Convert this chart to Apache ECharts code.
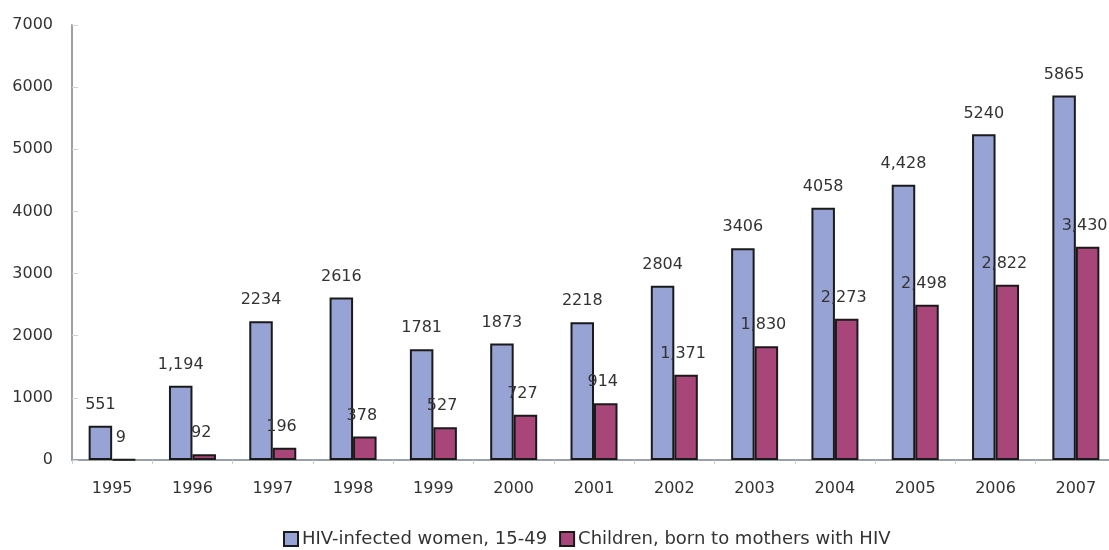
<!DOCTYPE html>
<html>
<head>
<meta charset="utf-8">
<script src="https://cdn.jsdelivr.net/npm/echarts@6/dist/echarts.min.js"></script>
<style>
html,body{margin:0;padding:0;background:#fff;overflow:hidden;}
#chart{width:1116px;height:550px;}
</style>
</head>
<body>
<div id="chart"></div>
<script>
const categories = ['1995','1996','1997','1998','1999','2000','2001','2002','2003','2004','2005','2006','2007'];
const womenValues = [551, 1194, 2234, 2616, 1781, 1873, 2218, 2804, 3406, 4058, 4428, 5240, 5865];
const childrenValues = [9, 92, 196, 378, 527, 727, 914, 1371, 1830, 2273, 2498, 2822, 3430];
const womenLabels = ['551','1,194','2234','2616','1781','1873','2218','2804','3406','4058','4,428','5240','5865'];
const childrenLabels = ['9','92','196','378','527','727','914','1,371','1,830','2,273','2,498','2,822','3,430'];
const yTicks = [0, 1000, 2000, 3000, 4000, 5000, 6000, 7000];
const seriesNames = ['HIV-infected women, 15-49', 'Children, born to mothers with HIV'];

const FONT = '"DejaVu Sans", sans-serif';
const TXT = '#333333';
const FS = 16;

const chart = echarts.init(document.getElementById('chart'), null, {renderer: 'canvas'});
chart.setOption({
  animation: false,
  backgroundColor: '#ffffff',
  textStyle: {fontFamily: FONT},
  grid: {left: 72, right: 0, top: 25, bottom: 90, containLabel: false},
  legend: {
    left: 278, top: 525,
    itemWidth: 14, itemHeight: 14, itemGap: 12,
    icon: 'rect',
    textStyle: {fontFamily: FONT, fontSize: 18, color: TXT, padding: [0,0,0,-1]},
    data: seriesNames
  },
  xAxis: {
    type: 'category',
    data: categories,
    axisLine: {lineStyle: {color: '#9aa0a8', width: 2}},
    axisTick: {show: true, inside: false, length: 4, lineStyle: {color: '#c8ccd2', width: 1}},
    axisLabel: {fontFamily: FONT, fontSize: FS, color: TXT, margin: 21}
  },
  yAxis: {
    type: 'value',
    min: yTicks[0], max: yTicks[yTicks.length - 1], interval: 1000,
    splitLine: {show: false},
    axisLine: {show: true, lineStyle: {color: '#9aa0a8', width: 2}},
    axisTick: {show: true, inside: true, length: 6, lineStyle: {color: '#d0d4da', width: 1}},
    axisLabel: {fontFamily: FONT, fontSize: FS, color: TXT, margin: 19, formatter: v => String(v)}
  },
  series: [
    {
      name: seriesNames[0],
      type: 'bar',
      data: womenValues,
      barWidth: 23.5,
      barGap: '0%',
      itemStyle: {color: '#97a2d5', borderColor: '#1a1a1a', borderWidth: 2},
      label: {
        show: true, position: 'top', distance: 13,
        fontFamily: FONT, fontSize: FS, color: TXT,
        formatter: p => womenLabels[p.dataIndex]
      }
    },
    {
      name: seriesNames[1],
      type: 'bar',
      data: childrenValues,
      barWidth: 23.5,
      barGap: '0%',
      itemStyle: {color: '#a8467a', borderColor: '#1a1a1a', borderWidth: 2},
      label: {
        show: true, position: 'top', distance: 13, offset: [-3, 0],
        fontFamily: FONT, fontSize: FS, color: TXT,
        formatter: p => childrenLabels[p.dataIndex]
      }
    }
  ]
});
</script>
</body>
</html>
